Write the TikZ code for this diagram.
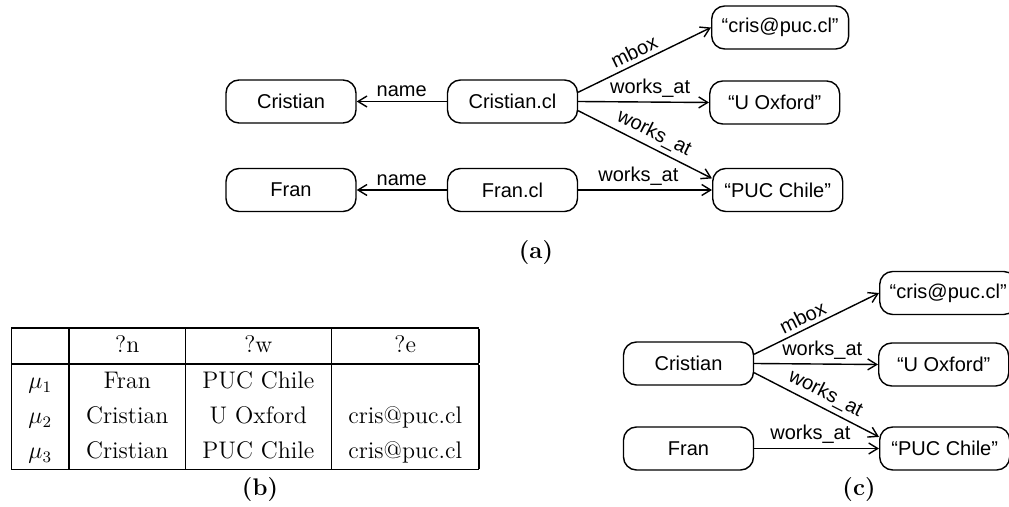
\documentclass[tikz,border=0pt]{standalone}
\usepackage{fontspec}
\newfontfamily\helv{Liberation Sans}
\usetikzlibrary{arrows.meta,positioning}
\renewcommand{\arraystretch}{1.2}
\setlength{\tabcolsep}{8.5pt}
\setlength{\arrayrulewidth}{0.6pt}

\begin{document}
\begin{tikzpicture}[x=0.5pt,y=-0.5pt,>={Straight Barb[length=4.5pt,width=5.5pt]},
  node distance=2cm,on grid]
\tikzset{gnode/.style={draw,line width=0.7pt,rounded corners=6.5pt,minimum width=65pt,
    minimum height=21.5pt,inner xsep=5pt,font=\helv\fontsize{10}{12}\selectfont}}
\tikzset{lit/.style={gnode,anchor=west}}
\tikzset{rel/.style={->,line width=0.7pt}}
\tikzset{every node/.append style={font=\helv\fontsize{10}{12}\selectfont,inner sep=2pt}}
\tikzset{subcap/.style={font=\fontsize{12}{14}\selectfont\bfseries}}
\useasboundingbox (0,0) rectangle (1009,507);
  % (a)
  \node[gnode]          (C)  at (291,101.5)        {Cristian};
  \node[gnode]          (CL) [right=110.75pt of C] {Cristian.cl};
  \node[gnode]          (F)  [below=44.25pt of C]  {Fran};
  \node[gnode]          (FL) [below=44.25pt of CL] {Fran.cl};
  \node[lit]            (M)  at (711,27.5)         {“cris@puc.cl”};
  \node[lit]            (O)  at (709,102.5)        {“U Oxford”};
  \node[lit]            (P)  at (712,190)          {“PUC Chile”};
\path (CL)      edge [rel] node [above] {name} (C)
      (FL)      edge [rel] node [above] {name} (F)
      (CL.8)    edge [rel] node [above,sloped,pos=0.46] {mbox} (M.west)
      (CL.east) edge [rel] node [above,pos=0.55] {works\_at} (O.west)
      (CL.-8)   edge [rel] node [above,sloped,pos=0.52] {works\_at} (P.170)
      (FL)      edge [rel] node [above,pos=0.45] {works\_at} (P.west);
  \node[subcap]         (capA) at (536,253)        {(a)};
  % (b)
  \node[anchor=north west,inner sep=0pt,font=\fontsize{12}{14.5}\selectfont] (T) at (11,327) {%
    \begin{tabular}{|c|c|c|c|}
      \hline
               & ?n       & ?w        & ?e          \\ \hline
      $\mu_1$  & Fran     & PUC Chile &             \\
      $\mu_2$  & Cristian & U Oxford  & cris@puc.cl \\
      $\mu_3$  & Cristian & PUC Chile & cris@puc.cl \\ \hline
    \end{tabular}};
  \node[subcap]         (capB) at (260,490)        {(b)};
  % (c)
  \node[gnode]          (C2) at (688.5,363.5)      {Cristian};
  \node[gnode]          (F2) [below=42.5pt of C2]  {Fran};
  \node[lit]            (M2) at (879,293)          {“cris@puc.cl”};
  \node[lit]            (O2) at (878,364.5)        {“U Oxford”};
  \node[lit]            (P2) at (879,448.5)        {“PUC Chile”};
\path (C2.8)    edge [rel] node [above,sloped,pos=0.43] {mbox} (M2.west)
      (C2.east) edge [rel] node [above,pos=0.55] {works\_at} (O2.west)
      (C2.-8)   edge [rel] node [above,sloped,pos=0.52] {works\_at} (P2.170)
      (F2)      edge [rel] node [above,pos=0.45] {works\_at} (P2.west);
  \node[subcap]         (capC) at (859,490)        {(c)};
\end{tikzpicture}
\end{document}
